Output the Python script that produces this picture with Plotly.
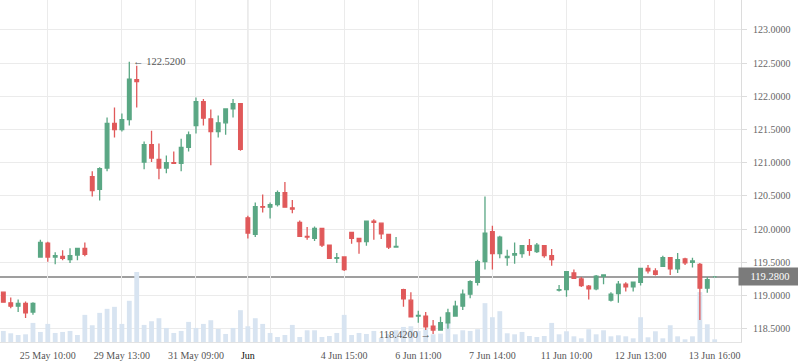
import plotly.graph_objects as go

opens = [119.05, 118.89, 118.84, 118.88, 118.75, 119.58, 119.79, 119.58, 119.59, 119.54,
         119.61, 119.71, 120.79, 120.60, 120.92, 121.59, 121.50, 121.65, 122.25, 121.01,
         121.27, 121.05, 120.92, 121.00, 120.99, 121.23, 121.56, 121.92, 121.66, 121.47,
         121.60, 121.81, 121.89, 120.17, 119.92, 120.34, 120.33, 120.37, 120.55, 120.32,
         120.10, 119.89, 119.86, 120.01, 119.76, 119.56, 119.58, 119.95, 119.86, 119.81,
         120.12, 120.09, 119.92, 119.73, 119.09, 118.93, 118.69, 118.69, 118.54, 118.48,
         118.59, 118.69, 118.84, 119.02, 119.20, 119.51, 119.96, 119.63, 119.57, 119.61,
         119.63, 119.75, 119.66, 119.75, 119.60, 119.08, 119.09, 119.34, 119.25, 119.14,
         119.10, 119.29, 118.93, 119.03, 119.17, 119.13, 119.20, 119.41, 119.37, 119.44,
         119.57, 119.40, 119.55, 119.50, 119.47, 119.11, 119.28]
highs = [119.06, 118.97, 118.94, 118.91, 118.90, 119.84, 119.81, 119.65, 119.68, 119.71,
         119.71, 119.80, 120.87, 120.93, 121.68, 121.83, 121.74, 122.52, 122.46, 121.32,
         121.48, 121.29, 121.11, 121.17, 121.36, 121.47, 121.98, 121.96, 121.80, 121.71,
         121.81, 121.96, 121.90, 120.20, 120.40, 120.52, 120.40, 120.58, 120.71, 120.44,
         120.13, 120.03, 120.04, 120.01, 119.76, 119.64, 119.59, 119.95, 119.87, 120.12,
         120.15, 120.09, 119.92, 119.88, 119.10, 119.05, 118.77, 118.75, 118.63, 118.68,
         118.80, 118.92, 119.09, 119.23, 119.54, 120.49, 120.05, 119.90, 119.69, 119.80,
         119.75, 119.85, 119.79, 119.75, 119.70, 119.16, 119.36, 119.39, 119.28, 119.16,
         119.31, 119.32, 119.05, 119.22, 119.20, 119.20, 119.41, 119.46, 119.41, 119.60,
         119.57, 119.64, 119.57, 119.57, 119.49, 119.28, 119.285]
lows = [118.90, 118.81, 118.75, 118.66, 118.71, 119.58, 119.51, 119.47, 119.53, 119.49,
        119.53, 119.59, 120.49, 120.43, 120.87, 121.38, 121.47, 121.56, 121.83, 120.90,
        121.01, 120.75, 120.84, 120.99, 120.87, 121.17, 121.44, 121.56, 120.96, 121.38,
        121.42, 121.68, 121.18, 119.86, 119.88, 120.25, 120.16, 120.34, 120.33, 120.24,
        119.89, 119.84, 119.82, 119.73, 119.55, 119.49, 119.37, 119.78, 119.63, 119.75,
        119.84, 119.85, 119.70, 119.73, 118.83, 118.68, 118.59, 118.48, 118.42, 118.48,
        118.50, 118.68, 118.78, 118.96, 119.15, 119.39, 119.39, 119.56, 119.45, 119.48,
        119.57, 119.60, 119.64, 119.57, 119.45, 119.06, 118.98, 119.25, 119.13, 118.94,
        119.08, 119.17, 118.91, 118.89, 119.06, 119.06, 119.15, 119.33, 119.30, 119.43,
        119.31, 119.34, 119.46, 119.42, 118.63, 119.04, 119.275]
closes = [118.90, 118.84, 118.88, 118.74, 118.88, 119.80, 119.58, 119.60, 119.56, 119.60,
          119.71, 119.62, 120.58, 120.91, 121.59, 121.50, 121.65, 122.26, 122.22, 121.27,
          121.07, 120.92, 121.00, 120.99, 121.23, 121.42, 121.92, 121.67, 121.47, 121.60,
          121.81, 121.89, 121.20, 119.94, 120.34, 120.33, 120.37, 120.55, 120.33, 120.30,
          119.89, 119.88, 120.01, 119.76, 119.56, 119.57, 119.39, 119.86, 119.81, 120.12,
          120.10, 119.93, 119.73, 119.74, 118.95, 118.68, 118.70, 118.53, 118.48, 118.59,
          118.74, 118.84, 119.02, 119.21, 119.51, 119.94, 119.63, 119.88, 119.59, 119.63,
          119.75, 119.68, 119.76, 119.60, 119.54, 119.09, 119.36, 119.26, 119.15, 119.10,
          119.29, 119.31, 119.02, 119.17, 119.13, 119.20, 119.41, 119.37, 119.32, 119.57,
          119.40, 119.54, 119.49, 119.52, 119.11, 119.24, 119.28]
volumes = [33, 26, 21, 23, 57, 30, 54, 27, 30, 33,
           21, 81, 50, 87, 99, 105, 54, 123, 209, 51,
           62, 71, 42, 27, 33, 60, 42, 54, 65, 39,
           24, 42, 95, 47, 71, 54, 27, 15, 21, 51,
           15, 35, 35, 15, 18, 27, 81, 21, 27, 24,
           33, 12, 24, 35, 45, 47, 33, 38, 23, 25,
           60, 23, 35, 33, 38, 116, 74, 92, 26, 23,
           30, 18, 15, 18, 57, 23, 32, 17, 11, 38,
           23, 35, 17, 20, 17, 11, 74, 14, 32, 11,
           50, 17, 8, 17, 149, 53, 8]

tick_idx = [6, 16, 26, 33, 36, 46, 56, 66, 76, 86, 96]
tick_labels = ["25 May 10:00", "29 May 13:00", "31 May 09:00",
               '<span style="color:#111">Jun</span>', "", "4 Jun 15:00",
               "6 Jun 11:00", "7 Jun 14:00", "11 Jun 10:00", "12 Jun 13:00",
               "13 Jun 16:00"]
month_start_idx = 33
last_price = 119.28
hi_idx, hi_val = 17, 122.52
lo_idx, lo_val = 58, 118.42

x = list(range(len(opens)))

GREEN = "#5aa784"
RED = "#e0595a"
FONT = "Liberation Serif"
FS = 10

fig = go.Figure()
fig.add_trace(go.Bar(x=x, y=volumes, yaxis="y", marker=dict(color="#d8e4f1", line=dict(width=0)),
                     hoverinfo="skip"))
fig.add_trace(go.Candlestick(
    x=x, open=opens, high=highs, low=lows, close=closes, yaxis="y2",
    increasing=dict(line=dict(color=GREEN, width=1.3), fillcolor=GREEN),
    decreasing=dict(line=dict(color=RED, width=1.3), fillcolor=RED),
    whiskerwidth=0,
))

plot_h = 363 - 21

fig.update_layout(
    width=798, height=363,
    margin=dict(l=0, r=57, t=0, b=21),
    paper_bgcolor="white", plot_bgcolor="white",
    showlegend=False,
    bargap=0.35,
    font=dict(family=FONT, size=FS, color="#555"),
    xaxis=dict(
        range=[-0.45, 99.55], tickmode="array", tickvals=tick_idx, ticktext=tick_labels,
        showgrid=True, gridcolor="#ebebeb", gridwidth=1, zeroline=False,
        showline=True, linecolor="#e3e3e3", ticks="", rangeslider=dict(visible=False),
        tickfont=dict(family=FONT, size=FS, color="#555"), ticklabelstandoff=4,
    ),
    yaxis=dict(range=[0, max(volumes) * plot_h / 70], visible=False, showgrid=False,
               fixedrange=True),
    yaxis2=dict(
        overlaying="y", side="right", range=[118.30, 123.45],
        tick0=118.5, dtick=0.5, tickformat=".4f",
        showgrid=True, gridcolor="#ebebeb", zeroline=False,
        showline=True, linecolor="#dcdcdc", ticks="outside", ticklen=5, tickcolor="#dcdcdc",
        tickfont=dict(family=FONT, size=FS, color="#666"), ticklabelstandoff=4,
    ),
    shapes=[
        dict(type="line", xref="x", yref="paper", x0=month_start_idx, x1=month_start_idx,
             y0=0, y1=1, line=dict(color="#d3d3d3", width=1), layer="below"),
        dict(type="line", xref="paper", yref="y2", x0=0, x1=1, y0=last_price, y1=last_price,
             line=dict(color="#7f7f7f", width=1.5), layer="below"),
    ],
    annotations=[
        dict(x=hi_idx, y=hi_val, xref="x", yref="y2", text="\u2190 %.4f" % hi_val,
             showarrow=False, xanchor="left", yanchor="middle", xshift=2,
             font=dict(family=FONT, size=FS + 0.5, color="#555")),
        dict(x=lo_idx, y=lo_val, xref="x", yref="y2", text="%.4f \u2192" % lo_val,
             showarrow=False, xanchor="right", yanchor="middle", xshift=0,
             font=dict(family=FONT, size=FS + 0.5, color="#555")),
        dict(x=1, y=last_price, xref="paper", yref="y2", text="%.4f" % last_price,
             showarrow=False, xanchor="left", yanchor="middle", xshift=-3,
             bgcolor="#7b7b7b", borderpad=3, width=56, align="center",
             font=dict(family=FONT, size=FS + 0.5, color="white")),
    ],
)

fig.write_html("out.html", config={"displayModeBar": False},
               post_script="document.body.style.margin='0';document.body.style.overflow='hidden';")
